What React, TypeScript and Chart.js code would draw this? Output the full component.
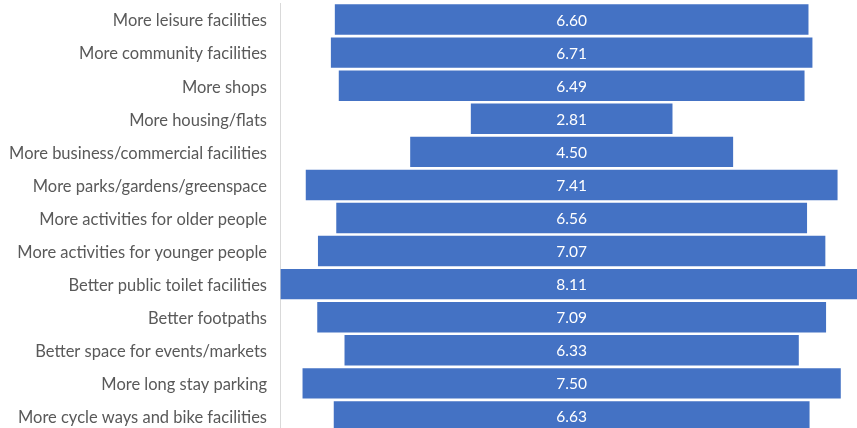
import React, { useEffect, useRef } from "react";
import { Chart, registerables } from "chart.js";

Chart.register(...registerables);

const categories: string[] = [
  "More leisure facilities",
  "More community facilities",
  "More shops",
  "More housing/flats",
  "More business/commercial facilities",
  "More parks/gardens/greenspace",
  "More activities for older people",
  "More activities for younger people",
  "Better public toilet facilities",
  "Better footpaths",
  "Better space for events/markets",
  "More long stay parking",
  "More cycle ways and bike facilities",
];

const scores: number[] = [6.6, 6.71, 6.49, 2.81, 4.5, 7.41, 6.56, 7.07, 8.11, 7.09, 6.33, 7.5, 6.63];

const FONT = "Lato, Calibri, Carlito, sans-serif";

const valueLabels = {
  id: "valueLabels",
  afterDatasetsDraw(chart: any) {
    const ctx = chart.ctx;
    const meta = chart.getDatasetMeta(0);
    const xs = chart.scales.x;
    ctx.save();
    ctx.fillStyle = "#ffffff";
    ctx.font = `15.5px ${FONT}`;
    ctx.textAlign = "center";
    ctx.textBaseline = "middle";
    meta.data.forEach((bar: any, i: number) => {
      ctx.fillText(scores[i].toFixed(2), xs.getPixelForValue(0), bar.y + 1);
    });
    ctx.restore();
  },
};

export default function App() {
  const ref = useRef<HTMLCanvasElement | null>(null);
  useEffect(() => {
    if (!ref.current) return;
    const chart = new Chart(ref.current, {
      type: "bar",
      data: {
        labels: categories,
        datasets: [
          {
            data: scores.map((v) => [-v / 2, v / 2]) as any,
            backgroundColor: "#4472C4",
            borderWidth: 0,
            barPercentage: 0.92,
            categoryPercentage: 1,
          },
        ],
      },
      options: {
        indexAxis: "y",
        animation: false,
        responsive: false,
        maintainAspectRatio: false,
        layout: { padding: { top: 3, bottom: 0, left: 0, right: 0 } },
        plugins: { legend: { display: false }, tooltip: { enabled: false } },
        scales: {
          x: { display: false, min: -4.064, max: 3.976 },
          y: {
            afterFit: (s: any) => {
              s.width = 280;
              s.paddingTop = 0;
              s.paddingBottom = 0;
            },
            grid: { display: false, drawTicks: false },
            border: { display: true, color: "#d9d9d9", width: 1 },
            ticks: {
              color: "#595959",
              padding: 13,
              autoSkip: false,
              labelOffset: 1.5,
              font: { family: FONT, size: 16.5 },
            },
          },
        },
      },
      plugins: [valueLabels],
    });
    return () => chart.destroy();
  }, []);
  return (
    <div style={{ position: "fixed", left: 0, top: 0, width: 857, height: 428, overflow: "hidden", background: "#fff" }}>
      <canvas ref={ref} width={857} height={433} style={{ display: "block", width: 857, height: 433 }} />
    </div>
  );
}
